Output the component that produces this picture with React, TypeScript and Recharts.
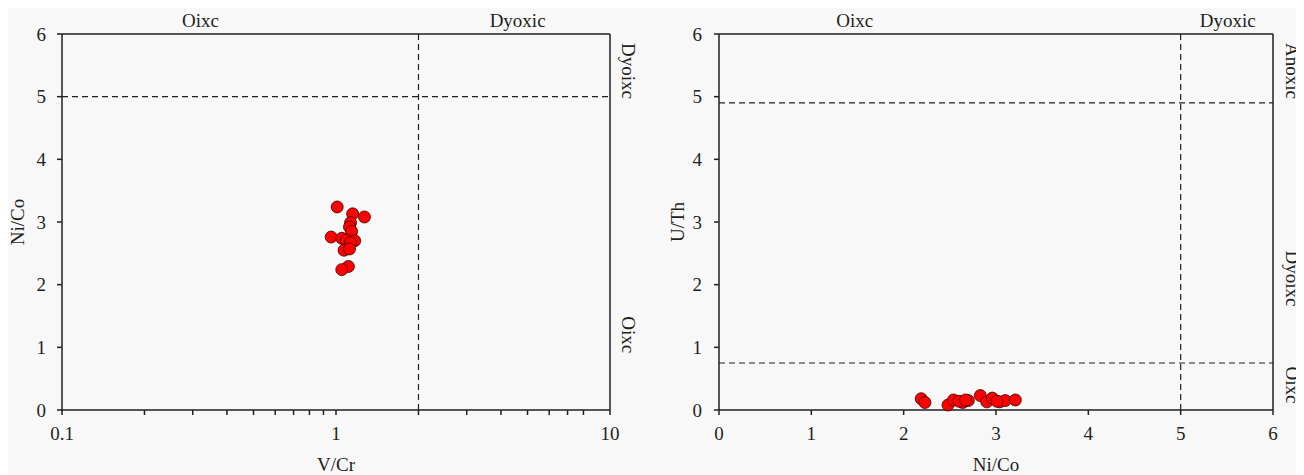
import {
  ScatterChart,
  Scatter,
  XAxis,
  YAxis,
  ReferenceLine,
  ReferenceDot,
} from 'recharts';

// V/Cr vs Ni/Co (left panel)
const vCr = [1.01, 1.15, 1.27, 1.13, 1.12, 1.14, 0.96, 1.05, 1.09, 1.17, 1.13, 1.07, 1.12, 1.11, 1.05];
const niCoLeft = [3.24, 3.13, 3.08, 2.99, 2.92, 2.85, 2.76, 2.74, 2.71, 2.7, 2.67, 2.55, 2.57, 2.29, 2.24];

// Ni/Co vs U/Th (right panel)
const niCoRight = [2.19, 2.23, 2.48, 2.54, 2.64, 2.7, 2.83, 2.9, 2.96, 3.04, 3.1, 3.21, 2.6, 2.67, 3.01];
const uTh = [0.18, 0.12, 0.08, 0.16, 0.12, 0.15, 0.23, 0.13, 0.19, 0.13, 0.15, 0.16, 0.14, 0.16, 0.14];

const logTicks = [0.1, 0.2, 0.3, 0.4, 0.5, 0.6, 0.7, 0.8, 0.9, 1, 2, 3, 4, 5, 6, 7, 8, 9, 10];
const majorLogTicks = [0.1, 1, 10];
const linTicks = [0, 1, 2, 3, 4, 5, 6];

// zone labels: [text, position along the axis]
const leftTopLabels: [string, number][] = [['Oixc', 0.32], ['Dyoxic', 4.6]];
const leftSideLabels: [string, number][] = [['Dyoixc', 5.41], ['Oixc', 1.2]];
const rightTopLabels: [string, number][] = [['Oixc', 1.47], ['Dyoxic', 5.51]];
const rightSideLabels: [string, number][] = [['Anoxic', 5.41], ['Dyoixc', 2.1], ['Oixc', 0.4]];

const leftData = vCr.map((x, i) => ({ x, y: niCoLeft[i] }));
const rightData = niCoRight.map((x, i) => ({ x, y: uTh[i] }));

const FONT = '"Liberation Serif", "DejaVu Serif", serif';
const INK = '#231f20';
const tickStyle = { fontFamily: FONT, fontSize: 19, fill: INK };

const dot = (p: any) => (
  <circle cx={p.cx} cy={p.cy} r={6} fill="#ff0000" stroke="#3a0000" strokeWidth={0.8} />
);

const topLabel = (text: string) => (props: any) => {
  const vb = props.viewBox;
  return (
    <text x={vb.x + vb.width / 2} y={vb.y - 7} textAnchor="middle" style={tickStyle}>
      {text}
    </text>
  );
};

const sideLabel = (text: string, off: number) => (props: any) => {
  const vb = props.viewBox;
  const x = vb.x + vb.width / 2 + off;
  const y = vb.y + vb.height / 2;
  return (
    <text
      x={x}
      y={y}
      textAnchor="middle"
      dominantBaseline="central"
      transform={`rotate(90 ${x} ${y})`}
      style={tickStyle}
    >
      {text}
    </text>
  );
};

function LeftPanel() {
  return (
    <ScatterChart width={650} height={467} margin={{ top: 26, right: 48, bottom: 0, left: 0 }}>
      <XAxis
        dataKey="x"
        type="number"
        scale="log"
        domain={[0.1, 10]}
        ticks={logTicks}
        allowDataOverflow
        tickFormatter={(v: number) => (majorLogTicks.includes(v) ? String(v) : '')}
        tick={tickStyle}
        tickSize={5}
        tickMargin={12}
        height={65}
        stroke={INK}
        strokeWidth={1.5}
        label={{ value: 'V/Cr', position: 'insideBottom', offset: 4, style: tickStyle }}
      />
      <YAxis
        dataKey="y"
        type="number"
        domain={[0, 6]}
        ticks={linTicks}
        tick={tickStyle}
        tickSize={5}
        tickMargin={11}
        width={54}
        stroke={INK}
        strokeWidth={1.5}
        label={{
          value: 'Ni/Co',
          angle: -90,
          position: 'insideLeft',
          offset: 9,
          style: { ...tickStyle, textAnchor: 'middle' },
        }}
      />
      <ReferenceLine y={6} stroke={INK} strokeWidth={1.5} />
      <ReferenceLine x={10} stroke={INK} strokeWidth={1.5} />
      <ReferenceLine x={2} stroke={INK} strokeWidth={1.2} strokeDasharray="6 4" />
      <ReferenceLine y={5} stroke={INK} strokeWidth={1.2} strokeDasharray="6 4" />
      {leftTopLabels.map(([t, x]) => (
        <ReferenceDot key={'t' + t} x={x} y={6} r={0} stroke="none" fill="none" label={topLabel(t)} />
      ))}
      {leftSideLabels.map(([t, y]) => (
        <ReferenceDot key={'s' + t} x={10} y={y} r={0} stroke="none" fill="none" label={sideLabel(t, 18)} />
      ))}
      <Scatter data={leftData} shape={dot} isAnimationActive={false} />
    </ScatterChart>
  );
}

function RightPanel() {
  return (
    <ScatterChart width={646} height={467} margin={{ top: 26, right: 31, bottom: 0, left: 0 }}>
      <XAxis
        dataKey="x"
        type="number"
        domain={[0, 6]}
        ticks={linTicks}
        tick={tickStyle}
        tickSize={5}
        tickMargin={12}
        height={65}
        stroke={INK}
        strokeWidth={1.5}
        label={{ value: 'Ni/Co', position: 'insideBottom', offset: 4, style: tickStyle }}
      />
      <YAxis
        dataKey="y"
        type="number"
        domain={[0, 6]}
        ticks={linTicks}
        tick={tickStyle}
        tickSize={5}
        tickMargin={12}
        width={61}
        stroke={INK}
        strokeWidth={1.5}
        label={{
          value: 'U/Th',
          angle: -90,
          position: 'insideLeft',
          offset: 19,
          style: { ...tickStyle, textAnchor: 'middle' },
        }}
      />
      <ReferenceLine y={6} stroke={INK} strokeWidth={1.5} />
      <ReferenceLine x={6} stroke={INK} strokeWidth={1.5} />
      <ReferenceLine x={5} stroke={INK} strokeWidth={1.2} strokeDasharray="6 4" />
      <ReferenceLine y={4.9} stroke={INK} strokeWidth={1.2} strokeDasharray="6 4" />
      <ReferenceLine y={0.75} stroke={INK} strokeWidth={1.2} strokeDasharray="6 4" />
      {rightTopLabels.map(([t, x]) => (
        <ReferenceDot key={'t' + t} x={x} y={6} r={0} stroke="none" fill="none" label={topLabel(t)} />
      ))}
      {rightSideLabels.map(([t, y]) => (
        <ReferenceDot key={'s' + t} x={6} y={y} r={0} stroke="none" fill="none" label={sideLabel(t, 19)} />
      ))}
      <Scatter data={rightData} shape={dot} isAnimationActive={false} />
    </ScatterChart>
  );
}

export default function App() {
  return (
    <div style={{ display: 'flex', width: 1296, height: 467, background: '#f8f8f8' }}>
      <LeftPanel />
      <RightPanel />
    </div>
  );
}
